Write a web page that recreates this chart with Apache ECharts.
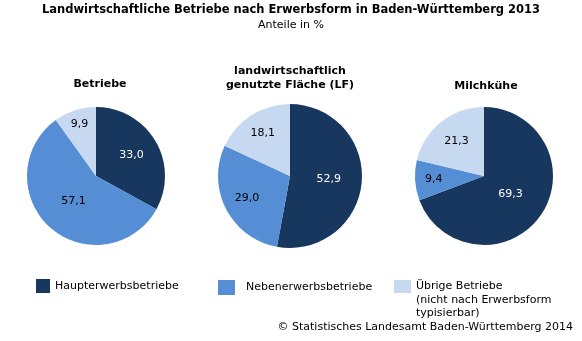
<!DOCTYPE html>
<html>
<head>
<meta charset="utf-8">
<script src="https://cdn.jsdelivr.net/npm/echarts@6/dist/echarts.min.js"></script>
<style>
html,body{margin:0;padding:0;background:#fff;}
#chart{width:582px;height:341px;}
</style>
</head>
<body>
<div id="chart"></div>
<script>
// ---- data ----
var categories = ['Haupterwerbsbetriebe', 'Nebenerwerbsbetriebe', 'Übrige Betriebe'];
var pieTitles = ['Betriebe', 'landwirtschaftlich\ngenutzte Fläche (LF)', 'Milchkühe'];
var betriebe = [33.0, 57.1, 9.9];
var flaeche = [52.9, 29.0, 18.1];
var milchkuehe = [69.3, 9.4, 21.3];

// ---- styles / layout ----
var colors = ['#17375E', '#558ED5', '#C6D9F1'];
var labelColors = ['#ffffff', '#000000', '#000000'];
var centers = [[96, 176], [290, 176], [484, 176]];
var radii = [69, 72, 69];
var titlePos = [[100, 84], [290, 78], [486, 86]];
// radial position of each label (fraction of radius)
var labelFractions = [[0.55, 0.45, 0.72], [0.5, 0.62, 0.65], [0.43, 0.67, 0.59]];
var FONT = '"DejaVu Sans", Verdana, sans-serif';

function buildData(values) {
  return values.map(function (v, i) {
    return {
      name: categories[i],
      value: v,
      itemStyle: { color: colors[i] },
      label: { color: labelColors[i] }
    };
  });
}

var seriesValues = [betriebe, flaeche, milchkuehe];
var series = seriesValues.map(function (vals, s) {
  return {
    type: 'pie',
    center: centers[s],
    radius: radii[s],
    startAngle: 90,
    clockwise: true,
    animation: false,
    silent: true,
    data: buildData(vals),
    label: {
      show: true,
      position: 'inside',
      fontFamily: FONT,
      fontSize: 11,
      formatter: function (p) { return p.value.toFixed(1).replace('.', ','); }
    },
    labelLine: { show: false },
    labelLayout: function (params) {
      var c = centers[s];
      var r = params.labelRect;
      var lx = r.x + r.width / 2, ly = r.y + r.height / 2;
      var f = labelFractions[s][params.dataIndex] / 0.5;
      return { x: c[0] + (lx - c[0]) * f, y: c[1] + (ly - c[1]) * f };
    }
  };
});

var graphics = [];
pieTitles.forEach(function (t, i) {
  graphics.push({
    type: 'text', x: titlePos[i][0], y: titlePos[i][1],
    style: { text: t, font: 'bold 11px ' + FONT, fill: '#000', align: 'center', verticalAlign: 'middle', lineHeight: 14 }
  });
});
graphics.push({
  type: 'text', x: 416, y: 293,
  style: { text: '(nicht nach Erwerbsform\ntypisierbar)', font: '11px ' + FONT, fill: '#000', align: 'left', verticalAlign: 'top', lineHeight: 13.5 }
});
graphics.push({
  type: 'text', x: 573, y: 327,
  style: { text: '© Statistisches Landesamt Baden-Württemberg 2014', font: '11px ' + FONT, fill: '#000', align: 'right', verticalAlign: 'middle' }
});

function legend(name, left, top, w, h, pad) {
  return {
    data: [name], left: left, top: top, padding: 0,
    itemWidth: w, itemHeight: h, icon: 'rect', selectedMode: false,
    textStyle: { fontFamily: FONT, fontSize: 11, color: '#000', padding: [0, 0, 0, pad] }
  };
}

var option = {
  backgroundColor: '#fff',
  animation: false,
  title: [{
    text: 'Landwirtschaftliche Betriebe nach Erwerbsform in Baden-Württemberg 2013',
    subtext: 'Anteile in %',
    left: 'center', top: 4, padding: 0, itemGap: 4,
    textStyle: { fontFamily: FONT, fontSize: 11.5, fontWeight: 'bold', color: '#000' },
    subtextStyle: { fontFamily: FONT, fontSize: 11, color: '#000' }
  }],
  legend: [
    legend(categories[0], 36, 279, 14, 14, 0),
    legend(categories[1], 218, 280, 17, 15, 6),
    legend(categories[2], 394, 280, 17, 13, 0)
  ],
  graphic: graphics,
  series: series
};

var chart = echarts.init(document.getElementById('chart'), null, { renderer: 'canvas' });
chart.setOption(option);
</script>
</body>
</html>
